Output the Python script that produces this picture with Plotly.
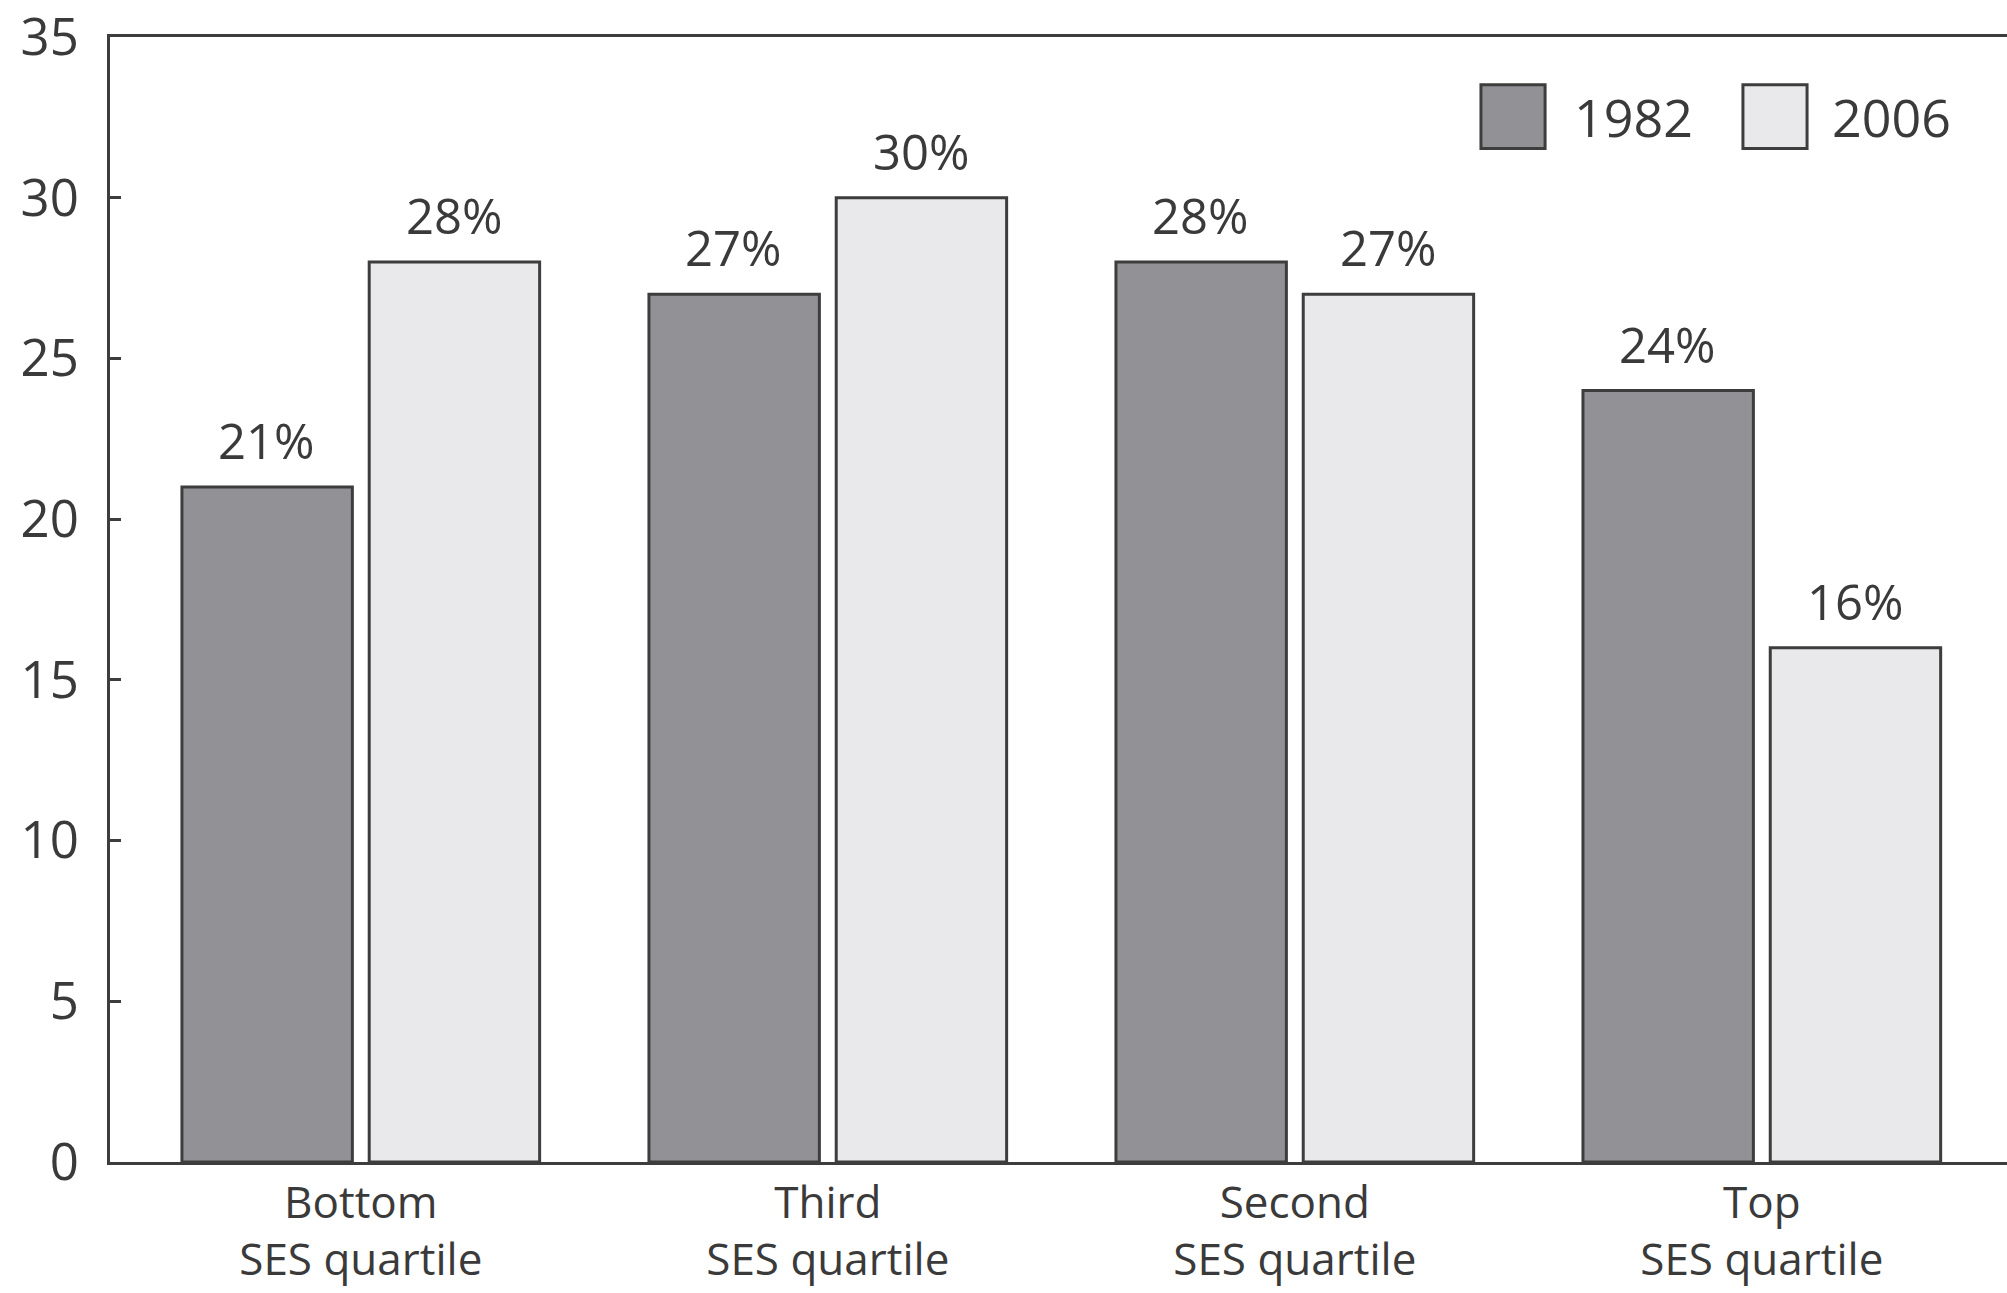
import plotly.graph_objects as go

categories = ["Bottom<br>SES quartile", "Third<br>SES quartile", "Second<br>SES quartile", "Top<br>SES quartile"]
series_names = ["1982", "2006"]
values_1982 = [21, 27, 28, 24]
values_2006 = [28, 30, 27, 16]
y_ticks = [0, 5, 10, 15, 20, 25, 30, 35]

FONT = "Open Sans"
TXT = "#3a3a3a"
LINE = "#3d3d3d"
C1982 = "#929296"
C2006 = "#e9e9eb"

fig = go.Figure()
series = [(series_names[0], values_1982, C1982, -94), (series_names[1], values_2006, C2006, 94)]
for name, vals, col, dx in series:
    fig.add_trace(go.Bar(
        x=categories, y=vals, name=name,
        marker=dict(color=col, line=dict(color=LINE, width=3)),
        cliponaxis=False,
    ))
    for c, v in zip(categories, vals):
        fig.add_annotation(x=c, y=v, text=f"{v}%", showarrow=False,
                           xanchor="center", yanchor="bottom", xshift=dx, yshift=12,
                           font=dict(family=FONT, size=49, color=TXT))

fig.update_layout(
    width=2007, height=1293,
    margin=dict(l=110, r=0, t=37, b=131),
    paper_bgcolor="white", plot_bgcolor="white",
    barmode="group", bargap=0.198, bargroupgap=0.09,
    showlegend=False,
    font=dict(family=FONT, color=TXT),
)
fig.update_xaxes(
    range=[-0.537, 3.525], showline=True, linecolor=LINE, linewidth=3,
    mirror=True, ticks="", showgrid=False, automargin=False,
    tickfont=dict(family=FONT, size=44, color=TXT),
    ticklabelstandoff=0,
)
fig.update_yaxes(
    range=[0, 35.0001], tickvals=y_ticks, showline=True, linecolor=LINE, linewidth=3,
    mirror=False, ticks="inside", ticklen=11, tickwidth=3, tickcolor=LINE,
    showgrid=False, zeroline=False, automargin=False,
    tickfont=dict(family=FONT, size=51, color=TXT),
    ticklabelstandoff=18, ticklabeloverflow="allow",
)

# custom legend
legend_items = [(series_names[0], C1982, 0.7227, 0.7565, 0.7707),
                (series_names[1], C2006, 0.8608, 0.8946, 0.9067)]
for name, col, x0, x1, xt in legend_items:
    fig.add_shape(type="rect", xref="paper", yref="paper",
                  x0=x0, x1=x1, y0=0.901, y1=0.9575,
                  fillcolor=col, line=dict(color=LINE, width=3))
    fig.add_annotation(xref="paper", yref="paper", x=xt, y=0.929,
                       text=name, showarrow=False, xanchor="left", yanchor="middle",
                       font=dict(family=FONT, size=52, color=TXT))

fig.write_html("out.html")
